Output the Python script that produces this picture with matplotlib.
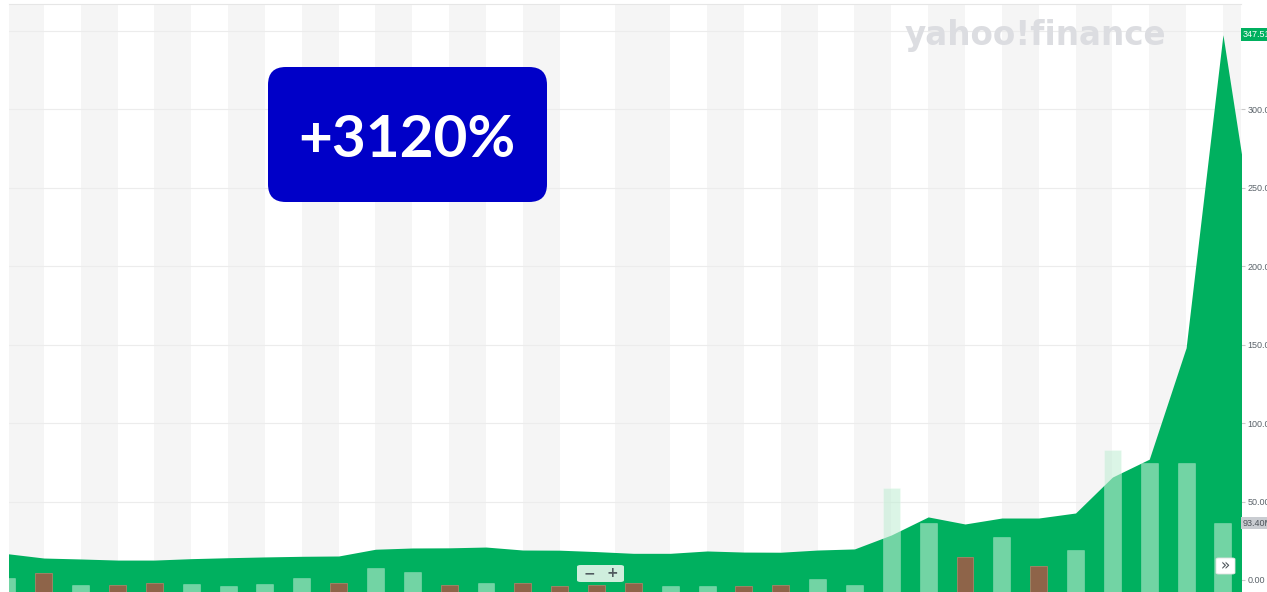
import matplotlib.pyplot as plt
from matplotlib.patches import FancyBboxPatch

# weekly closing price (USD), one value per slot
price = [16.8, 14.0, 13.4, 12.7, 12.7, 13.6, 14.2, 14.7, 15.1, 15.3,
         19.6, 20.4, 20.5, 21.0, 19.1, 19.0, 18.1, 17.0, 17.0, 18.5,
         17.8, 17.7, 19.1, 19.8, 28.7, 40.2, 35.7, 39.5, 39.5, 42.7,
         65.6, 77.0, 148.0, 347.51, 196.5]

# volume in millions, and whether the bar is an up (1) or down (0) period
volume = [19.0, 25.7, 9.5, 9.5, 11.8, 10.8, 8.5, 10.8, 19.0, 11.8,
          32.5, 27.0, 9.0, 11.8, 11.8, 8.1, 9.0, 11.8, 7.7, 8.1,
          8.1, 9.0, 17.6, 9.9, 141.0, 93.0, 47.8, 74.9, 35.6, 56.9,
          192.0, 175.0, 175.0, 93.4]
up = [1, 0, 1, 0, 0, 1, 1, 1, 1, 0,
      1, 1, 0, 1, 0, 0, 0, 0, 1, 1,
      0, 0, 1, 1, 1, 1, 0, 1, 0, 1,
      1, 1, 1, 1]

# shaded background bands (start, end) in slot units
bands = [(0, 1), (2, 3), (4, 5), (6, 7), (8, 9), (10, 11), (12, 13), (14, 15),
         (16.5, 18), (19, 20), (21, 22), (23, 24), (25, 26), (27, 28),
         (29, 30), (31, 32), (33, 34)]

price_ticks = [0, 50, 100, 150, 200, 250, 300, 350]
last_price = 347.51
last_volume = 93.4
gain_text = '+3120%'

W, H = 1267, 592
fig = plt.figure(figsize=(W / 100, H / 100), dpi=100)
fig.patch.set_facecolor('white')

ax_left, ax_right, ax_top, ax_bot = 9, 1241, 4, 592
ax = fig.add_axes([ax_left / W, 1 - ax_bot / H, (ax_right - ax_left) / W, (ax_bot - ax_top) / H])
ax.set_facecolor('white')

xmin, xmax = 0.054, 33.49
ymin, ymax = -7.65, 367.1
ax.set_xlim(xmin, xmax)
ax.set_ylim(ymin, ymax)

for a, b in bands:
    ax.axvspan(a, b, color='#f5f5f5', lw=0, zorder=0)

for t in price_ticks:
    ax.axhline(t, color='#ececec', lw=0.8, zorder=1)

xs = list(range(len(price)))
ax.fill_between(xs, price, ymin, color='#00b05f', lw=0, zorder=2)

# volume on its own scale
vax = ax.twinx()
vax.set_ylim(0, 796)
vx = list(range(len(volume)))
for i in vx:
    if up[i]:
        vax.bar(i, volume[i], width=0.46, color=(195 / 255, 238 / 255, 213 / 255, 0.59),
                edgecolor=(1, 1, 1, 0.25), lw=0.6, zorder=3)
    else:
        vax.bar(i, volume[i], width=0.46, color='#8e6449', edgecolor='#a88468', lw=0.6, zorder=3)
vax.set_yticks([])
for s in vax.spines.values():
    s.set_visible(False)

ax.yaxis.tick_right()
ax.set_yticks(price_ticks)
ax.set_yticklabels(['%.2f' % t for t in price_ticks], family='Liberation Sans')
ax.tick_params(axis='y', length=3, width=0.8, color='#c9c9c9', pad=1.5,
               labelsize=6.5, labelcolor='#5b636a')
ax.set_xticks([])
for name, s in ax.spines.items():
    s.set_visible(False)
ax.spines['top'].set_visible(True)
ax.spines['top'].set_color('#e6e6e6')
ax.spines['top'].set_linewidth(0.8)

# last value flags on the right edge
ax.text(1.0012, last_price, '%.2f' % last_price, transform=ax.get_yaxis_transform(),
        ha='left', va='center', fontsize=6.5, color='white', zorder=10, clip_on=False,
        family='Liberation Sans',
        bbox=dict(boxstyle='square,pad=0.2', fc='#00b05f', ec='none'))
vax.text(1.0012, last_volume, '%.2fM' % last_volume, transform=vax.get_yaxis_transform(),
         ha='left', va='center', fontsize=6.5, color='#4d545a', zorder=10, clip_on=False,
         family='Liberation Sans',
         bbox=dict(boxstyle='square,pad=0.2', fc='#c9ccd1', ec='none'))

# watermark
fig.text(1035 / W, 1 - 45 / H, 'yahoo!finance', ha='center', va='baseline',
         fontsize=23.5, fontweight='bold', color='#dcdde1', family='DejaVu Sans')

# gain badge
badge = FancyBboxPatch((268 / W, 1 - 202 / H), (547 - 268) / W, (202 - 67) / H,
                       boxstyle='round,pad=0,rounding_size=0.014', transform=fig.transFigure,
                       fc='#0000c8', ec='none', zorder=20, mutation_aspect=W / H)
fig.patches.append(badge)
fig.text(407 / W, 1 - 157 / H, gain_text, ha='center', va='baseline', fontsize=42,
         fontweight='bold', color='white', family='Lato', zorder=21)

# zoom buttons
zb = FancyBboxPatch((577 / W, 1 - 582 / H), 47 / W, 17 / H,
                    boxstyle='round,pad=0,rounding_size=0.003', transform=fig.transFigure,
                    fc='#cfeedd', ec='none', zorder=20)
fig.patches.append(zb)
fig.text(589 / W, 1 - 573 / H, '\u2212', ha='center', va='center', fontsize=10,
         fontweight='bold', color='#505a5f', zorder=21)
fig.text(612 / W, 1 - 573 / H, '+', ha='center', va='center', fontsize=10,
         fontweight='bold', color='#505a5f', zorder=21)

fb = FancyBboxPatch((1216 / W, 1 - 574 / H), 19 / W, 16 / H,
                    boxstyle='round,pad=0,rounding_size=0.002', transform=fig.transFigure,
                    fc='white', ec='#e0e0e0', lw=0.6, zorder=20)
fig.patches.append(fb)
fig.text(1225.5 / W, 1 - 566 / H, '\u00bb', ha='center', va='center', fontsize=11,
         color='#4d545a', zorder=21)

plt.savefig('out.png', dpi=100)
